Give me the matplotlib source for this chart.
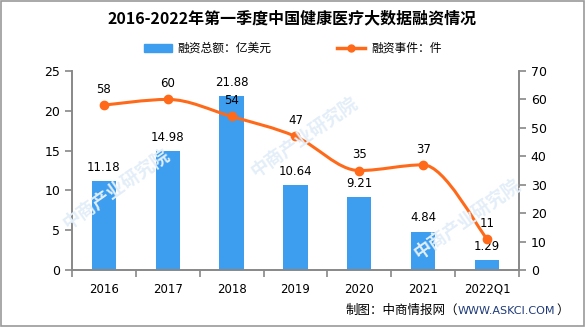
import matplotlib
matplotlib.use("Agg")
import matplotlib.pyplot as plt
from matplotlib.path import Path
from matplotlib.patches import PathPatch, Rectangle
from matplotlib.lines import Line2D
import numpy as np

plt.rcParams['font.family'] = ['Noto Sans CJK SC', 'DejaVu Sans']

# data
years = ['2016', '2017', '2018', '2019', '2020', '2021', '2022Q1']
amount = [11.18, 14.98, 21.88, 10.64, 9.21, 4.84, 1.29]   # 亿美元
events = [58, 60, 54, 47, 35, 37, 11]                      # 件

bar_color = '#3D9EF0'
line_color = '#FF6A1A'
axis_color = '#888888'

fig = plt.figure(figsize=(5.85, 3.27), dpi=100)

# faint watermark behind everything
for wx, wy in [(0.20, 0.42), (0.52, 0.58), (0.80, 0.33)]:
    fig.text(wx, wy, '中商产业研究院', fontsize=13, color='#E3EEF8', rotation=35,
             ha='center', va='center', zorder=0, fontweight='bold')

ax = fig.add_axes([0.123, 0.174, 0.764, 0.609])
ax.patch.set_alpha(0)
ax2 = ax.twinx()

x = np.arange(len(years))
ax.bar(x, amount, width=0.38, color=bar_color, zorder=2)
ax.set_xlim(-0.5, len(years) - 0.5)
ax.set_ylim(0, 25)
ax.set_yticks([0, 5, 10, 15, 20, 25])
ax2.set_ylim(0, 70)
ax2.set_yticks(range(0, 71, 10))

# smooth line drawn as a bezier path through the data points
pts = np.column_stack([x, events]).astype(float)
verts = [tuple(pts[0])]
codes = [Path.MOVETO]
for i in range(len(pts) - 1):
    p0 = pts[i - 1] if i > 0 else pts[i]
    p1 = pts[i]
    p2 = pts[i + 1]
    p3 = pts[i + 2] if i + 2 < len(pts) else pts[i + 1]
    # limit tangents so the curve does not overshoot at local turns
    d1 = (p2 - p0) * 0.17
    d2 = (p3 - p1) * 0.17
    if i > 0 and (p1[1] - p0[1]) * (p2[1] - p1[1]) <= 0:
        d1[1] = 0
    if i + 2 < len(pts) and (p2[1] - p1[1]) * (p3[1] - p2[1]) <= 0:
        d2[1] = 0
    verts += [tuple(p1 + d1), tuple(p2 - d2), tuple(p2)]
    codes += [Path.CURVE4] * 3
ax2.add_patch(PathPatch(Path(verts, codes), facecolor='none', edgecolor=line_color, lw=2.2, zorder=3))
ax2.plot(x, events, 'o', color=line_color, ms=6, zorder=4)

for xi, v in zip(x, amount):
    ax.text(xi, v + 0.9, f'{v:.2f}', ha='center', va='bottom', fontsize=8.5,
            family=['DejaVu Sans'], zorder=5)
for xi, v in zip(x, events):
    ax2.text(xi, v + 3.2, str(v), ha='center', va='bottom', fontsize=8.5,
             family=['DejaVu Sans'], zorder=5)

for a in (ax, ax2):
    a.spines['top'].set_visible(False)
    for s in ('left', 'right', 'bottom'):
        a.spines[s].set_color(axis_color)
        a.spines[s].set_linewidth(1.2)
    a.tick_params(axis='y', colors=axis_color, labelcolor='black', length=5,
                  width=1.2, labelsize=9)

ax.set_xticks(x)
ax.set_xticklabels(years, fontsize=8.5, family=['DejaVu Sans'])
ax.set_xticks(np.arange(-0.5, len(years)), minor=True)
ax.tick_params(axis='x', which='major', length=0, pad=9)
ax.tick_params(axis='x', which='minor', length=5, width=1.2, color=axis_color)
for lbl in ax.get_yticklabels() + ax2.get_yticklabels():
    lbl.set_family(['DejaVu Sans'])

fig.text(0.5, 0.945, '2016-2022年第一季度中国健康医疗大数据融资情况', ha='center', va='center',
         fontsize=11.5, fontweight='bold')

handles = [Rectangle((0, 0), 1, 1, color=bar_color),
           Line2D([0], [0], color=line_color, lw=2.5, marker='o', ms=5)]
fig.legend(handles, ['融资总额：亿美元', '融资事件：件'], loc='center', bbox_to_anchor=(0.5, 0.852),
           ncol=2, frameon=False, fontsize=8.5, handlelength=2.4, columnspacing=5.5,
           handletextpad=0.5)

# footer, chained right to left so the pieces touch
t3 = fig.text(0.972, 0.05, '）', ha='right', va='center', fontsize=9)
t2 = fig.text(0.9, 0.05, 'WWW.ASKCI.COM', ha='right', va='center', fontsize=8,
              color='#1F3A7A', family=['DejaVu Sans'])
t1 = fig.text(0.7, 0.05, '制图：中商情报网（', ha='right', va='center', fontsize=9)
fig.canvas.draw()
r = fig.canvas.get_renderer()
inv = fig.transFigure.inverted()
bb3 = t3.get_window_extent(r)
t2.set_x(inv.transform((bb3.x0 - 0.5, 0))[0])
bb2 = t2.get_window_extent(r)
t1.set_x(inv.transform((bb2.x0 - 0.5, 0))[0])

fig.add_artist(Rectangle((0.001, 0.002), 0.997, 0.995, transform=fig.transFigure,
                         fill=False, edgecolor='#999999', lw=1.2))

fig.savefig('out.png', dpi=100)
